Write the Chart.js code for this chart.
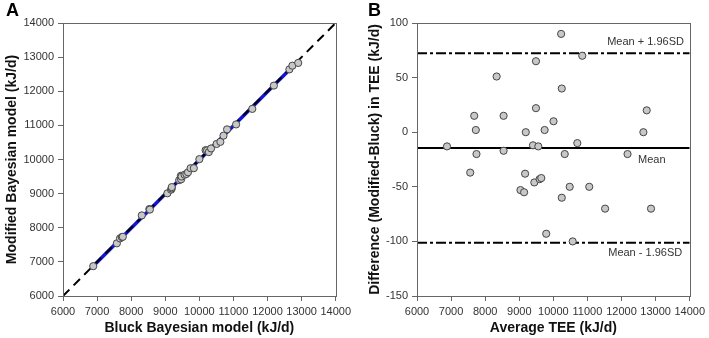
<!DOCTYPE html>
<html>
<head>
<meta charset="utf-8">
<script src="https://cdn.jsdelivr.net/npm/chart.js@4/dist/chart.umd.min.js"></script>
<style>
  html, body { margin:0; padding:0; background:#fff; }
  #wrap { position:relative; width:709px; height:338px; overflow:hidden; font-family:"Liberation Sans", Arial, sans-serif; }
  canvas { position:absolute; top:0; }
  .letter { position:absolute; font-weight:bold; font-size:18px; color:#000; line-height:18px; }
</style>
</head>
<body>
<div id="wrap">
  <canvas id="cA" width="355" height="338" style="left:0px"></canvas>
  <canvas id="cB" width="354" height="338" style="left:355px"></canvas>
  <div class="letter" style="left:6px; top:1px;">A</div>
  <div class="letter" style="left:368px; top:1px;">B</div>
</div>
<script>
// ---- Data ----
// Panel A: Bluck vs Modified Bayesian model TEE (kJ/d)
const bluckTEE    = [6887,7580,7672,7725,7755,8311,8533,8549,9062,9170,9190,9191,9409,9465,9458,9479,9566,9619,9667,9743,9838,10000,10183,10227,10277,10344,10505,10617,10708,10813,11078,11553,12186,12641,12729,12900];
const modifiedTEE = [6874,7543,7687,7727,7735,8362,8548,8532,9009,9115,9152,9191,9397,9419,9523,9501,9553,9576,9625,9745,9745,10010,10273,10267,10217,10324,10455,10517,10698,10883,11028,11483,12166,12641,12749,12830];
// Panel B: Bland-Altman
const avgTEE  = [6880,7561,7679,7726,7745,8336,8540,8540,9035,9142,9171,9191,9403,9442,9490,9490,9559,9597,9646,9744,9791,10005,10228,10247,10247,10334,10480,10567,10703,10848,11053,11518,12176,12641,12739,12865];
const diffTEE = [-13,-37,15,2,-20,51,15,-17,-53,-55,-38,0,-12,-46,65,22,-13,-43,-42,2,-93,10,90,40,-60,-20,-50,-100,-10,70,-50,-70,-20,0,20,-70];
// Lines
const identityX = [6000, 14000];
const fitX = [6890, 12900];
const fitY = [6880, 12885];
const meanDiff = -14.5;
const upperLoA = 72.3;
const lowerLoA = -101.3;
const rangeX = [6000, 14000];
// Tick settings
const axisA = { min: 6000, max: 14000, step: 1000 };
const axisBy = { min: -150, max: 100, step: 50 };
// Annotation labels for panel B
const loaLabels = [
  { text: 'Mean + 1.96SD', x: 13830, y: 82.5, align: 'right' },
  { text: 'Mean', x: 12485, y: -25.5, align: 'left' },
  { text: 'Mean - 1.96SD', x: 13780, y: -111, align: 'right' }
];

const FONT = '"Liberation Sans", Arial, sans-serif';
const tickFont = { family: FONT, size: 11 };
const titleFont = { family: FONT, size: 14, weight: 'bold' };
const axisColor = '#666';

const boxPlugin = {
  id: 'box',
  afterDraw(chart) {
    const { ctx, chartArea: a } = chart;
    ctx.save();
    ctx.strokeStyle = axisColor;
    ctx.lineWidth = 1;
    ctx.strokeRect(Math.round(a.left) + 0.5, Math.round(a.top) + 0.5, Math.round(a.right - a.left), Math.round(a.bottom - a.top));
    ctx.restore();
  }
};

const plain = v => String(v);

function xScale(title, cfg) {
  return {
    type: 'linear', min: cfg.min, max: cfg.max,
    ticks: { stepSize: cfg.step, font: tickFont, color: '#333', padding: 4, maxRotation: 0, autoSkip: false, callback: plain },
    grid: { drawOnChartArea: false, drawTicks: true, tickLength: 5, color: axisColor },
    border: { display: true, color: axisColor },
    title: { display: true, text: title, font: titleFont, color: '#111', padding: { top: 0, bottom: 1 } },
    afterFit(s) { s.height = 42; }
  };
}
function yScale(title, cfg, titlePad, w) {
  return {
    type: 'linear', min: cfg.min, max: cfg.max,
    ticks: { stepSize: cfg.step, font: tickFont, color: '#333', padding: 4, callback: plain },
    grid: { drawOnChartArea: false, drawTicks: true, tickLength: 5, color: axisColor },
    border: { display: true, color: axisColor },
    title: { display: true, text: title, font: titleFont, color: '#111', padding: { top: titlePad, bottom: 0 } },
    afterFit(s) { s.width = w; }
  };
}

const pointStyle = {
  backgroundColor: '#c8c8c8', borderColor: '#444', borderWidth: 1, pointRadius: 3.6, pointHoverRadius: 3.6
};

// Panel A
new Chart(document.getElementById('cA'), {
  type: 'scatter',
  data: {
    datasets: [
      Object.assign({ label: 'data', data: bluckTEE.map((b, i) => ({ x: b, y: modifiedTEE[i] })), order: 0 }, pointStyle),
      { label: 'identity', data: identityX.map(v => ({ x: v, y: v })), showLine: true, borderColor: '#000', borderWidth: 2, borderDash: [9, 6], pointRadius: 0, order: 1 },
      { label: 'fit', data: fitX.map((v, i) => ({ x: v, y: fitY[i] })), showLine: true, borderColor: '#1414d8', borderWidth: 3.5, pointRadius: 0, order: 2 }
    ]
  },
  options: {
    responsive: false, animation: false, devicePixelRatio: 1,
    layout: { padding: { top: 23, right: 16, left: 0, bottom: 0 } },
    plugins: { legend: { display: false }, tooltip: { enabled: false } },
    scales: {
      x: xScale('Bluck Bayesian model (kJ/d)', axisA),
      y: yScale('Modified Bayesian model (kJ/d)', axisA, 4, 63)
    }
  },
  plugins: [boxPlugin]
});

// Panel B
const labelPlugin = {
  id: 'loaLabels',
  afterDatasetsDraw(chart) {
    const { ctx, scales } = chart;
    ctx.save();
    ctx.font = '11px ' + FONT;
    ctx.fillStyle = '#333';
    ctx.textBaseline = 'middle';
    loaLabels.forEach(l => {
      ctx.textAlign = l.align;
      ctx.fillText(l.text, scales.x.getPixelForValue(l.x), scales.y.getPixelForValue(l.y));
    });
    ctx.restore();
  }
};

new Chart(document.getElementById('cB'), {
  type: 'scatter',
  data: {
    datasets: [
      Object.assign({ label: 'diff', data: avgTEE.map((a, i) => ({ x: a, y: diffTEE[i] })), order: 0 }, pointStyle),
      { label: 'mean', data: rangeX.map(v => ({ x: v, y: meanDiff })), showLine: true, borderColor: '#000', borderWidth: 2, pointRadius: 0, order: 1 },
      { label: 'upper', data: rangeX.map(v => ({ x: v, y: upperLoA })), showLine: true, borderColor: '#000', borderWidth: 2, borderDash: [10, 3, 3, 3], pointRadius: 0, order: 1 },
      { label: 'lower', data: rangeX.map(v => ({ x: v, y: lowerLoA })), showLine: true, borderColor: '#000', borderWidth: 2, borderDash: [10, 3, 3, 3], pointRadius: 0, order: 1 }
    ]
  },
  options: {
    responsive: false, animation: false, devicePixelRatio: 1,
    layout: { padding: { top: 23, right: 16, left: 0, bottom: 0 } },
    plugins: { legend: { display: false }, tooltip: { enabled: false } },
    scales: {
      x: xScale('Average TEE (kJ/d)', axisA),
      y: yScale('Difference (Modified-Bluck) in TEE (kJ/d)', axisBy, 12, 62)
    }
  },
  plugins: [boxPlugin, labelPlugin]
});
</script>
</body>
</html>
